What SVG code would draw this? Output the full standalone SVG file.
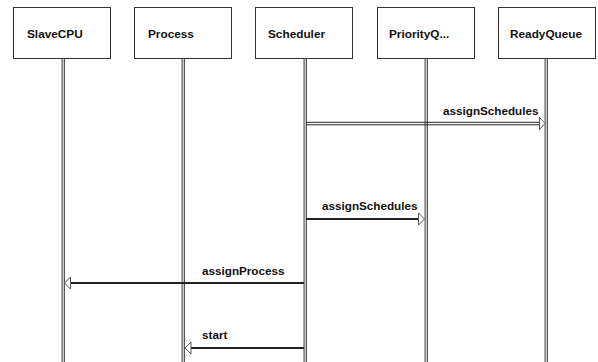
<svg xmlns="http://www.w3.org/2000/svg" width="598" height="362" viewBox="0 0 598 362">
  <style>
    .box { fill: #ffffff; stroke: #333333; stroke-width: 1; }
    .life { fill: #c8c8c8; stroke: #333333; stroke-width: 0.8; }
    .name { font-family: "Liberation Sans", Arial, sans-serif; font-weight: bold; font-size: 11.8px; fill: #111111; }
    .label { font-family: "Liberation Sans", Arial, sans-serif; font-weight: bold; font-size: 11.7px; fill: #111111; }
    .msg { stroke: #222222; stroke-width: 1.8; fill: none; }
    .head { fill: #ffffff; stroke: #555555; stroke-width: 1; }
  </style>
  <rect width="598" height="362" fill="#ffffff"/>

  <g id="SlaveCPU">
    <rect class="box" x="13.5" y="7.5" width="97" height="51"/>
    <rect class="life" x="62" y="58.5" width="2.6" height="310"/>
    <text class="name" x="27" y="38">SlaveCPU</text>
  </g>
  <g id="Process">
    <rect class="box" x="134.5" y="7.5" width="97" height="51"/>
    <rect class="life" x="182" y="58.5" width="2.6" height="310"/>
    <text class="name" x="148" y="38">Process</text>
  </g>
  <g id="Scheduler">
    <rect class="box" x="255.5" y="7.5" width="97" height="51"/>
    <rect class="life" x="304" y="58.5" width="2.6" height="310"/>
    <text class="name" x="268" y="38">Scheduler</text>
  </g>
  <g id="PriorityQueue">
    <rect class="box" x="377.5" y="7.5" width="97" height="51"/>
    <rect class="life" x="425" y="58.5" width="2.6" height="310"/>
    <text class="name" x="389" y="38">PriorityQ...</text>
  </g>
  <g id="ReadyQueue">
    <rect class="box" x="498.5" y="7.5" width="97" height="51"/>
    <rect class="life" x="545" y="58.5" width="2.6" height="310"/>
    <text class="name" x="510" y="38">ReadyQueue</text>
  </g>

  <g id="connectors">
    <!-- Scheduler to ReadyQueue (double rule) -->
    <line x1="306" y1="122.3" x2="541" y2="122.3" stroke="#222222" stroke-width="1"/>
    <line x1="306" y1="124.8" x2="541" y2="124.8" stroke="#222222" stroke-width="1"/>
    <path class="head" d="M539.5,117.5 L545,123.5 L539.5,129.5 Z"/>
    <text class="label" x="443" y="115">assignSchedules</text>

    <!-- Scheduler to PriorityQueue -->
    <line class="msg" x1="306" y1="219" x2="419" y2="219"/>
    <path class="head" d="M418.5,213 L424.5,219 L418.5,225 Z"/>
    <text class="label" x="322" y="210">assignSchedules</text>

    <!-- Scheduler to SlaveCPU -->
    <line class="msg" x1="304" y1="283" x2="70" y2="283"/>
    <path class="head" d="M70.5,277 L64.5,283 L70.5,289 Z"/>
    <text class="label" x="202" y="275">assignProcess</text>

    <!-- Scheduler to Process -->
    <line class="msg" x1="304" y1="348" x2="191" y2="348"/>
    <path class="head" d="M191,342 L185,348 L191,354 Z"/>
    <text class="label" x="202" y="339">start</text>
  </g>
</svg>
